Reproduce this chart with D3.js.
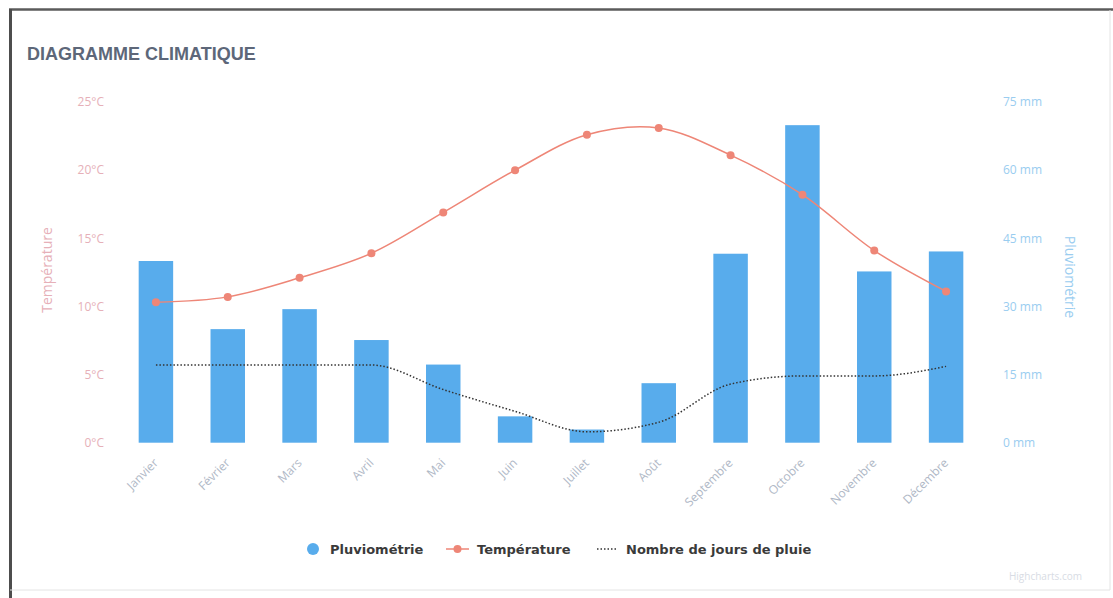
<!DOCTYPE html>
<html>
<head>
<meta charset="utf-8">
<script src="https://cdn.jsdelivr.net/npm/d3@7/dist/d3.min.js"></script>
<style>
  body { margin: 0; background: #fff; }
  svg { display: block; }
</style>
</head>
<body>
<svg class="viz" width="1113" height="598"></svg>
<script>
// data
var months = ["Janvier", "Février", "Mars", "Avril", "Mai", "Juin", "Juillet", "Août",
  "Septembre", "Octobre", "Novembre", "Décembre"];
var pluvio = [40, 25, 29.4, 22.6, 17.2, 5.8, 2.9, 13.1, 41.6, 69.9, 37.7, 42.1];        // mm
var temperature = [10.3, 10.7, 12.1, 13.9, 16.9, 20, 22.6, 23.1, 21.1, 18.2, 14.1, 11.1]; // °C
var joursPluie = [5.7, 5.7, 5.7, 5.7, 3.9, 2.3, 0.8, 1.5, 4.3, 4.9, 4.9, 5.6];
var tempTicks = [0, 5, 10, 15, 20, 25];
var pluvioTicks = [0, 15, 30, 45, 60, 75];

var svg = d3.select(".viz"),
    margin = {top: 102, right: 131, bottom: 155, left: 120},
    width = +svg.attr("width"),
    height = +svg.attr("height");

var blue = "#58acec",
    red = "#ee8677",
    bottom = height - margin.bottom - 0.3;

// frame
svg.append("line").attr("x1", 9).attr("x2", width).attr("y1", 9.5).attr("y2", 9.5)
    .style("stroke", "#5b5b5b").style("stroke-width", 2.5);
svg.append("line").attr("x1", 10.5).attr("x2", 10.5).attr("y1", 9).attr("y2", height)
    .style("stroke", "#4d4d4d").style("stroke-width", 3);
svg.append("line").attr("x1", 1110).attr("x2", 1110).attr("y1", 10).attr("y2", 590)
    .style("stroke", "#e4e4e4").style("stroke-width", 1);
svg.append("line").attr("x1", 10).attr("x2", 1110).attr("y1", 590).attr("y2", 590)
    .style("stroke", "#e4e4e4").style("stroke-width", 1);

svg.append("text")
    .text("DIAGRAMME CLIMATIQUE")
    .attr("x", 27).attr("y", 60)
    .attr("font-family", "Liberation Sans, Arial, sans-serif")
    .attr("font-size", "18px")
    .attr("font-weight", "bold")
    .attr("fill", "#5d6779");

var x = d3.scaleBand()
    .domain(months)
    .range([margin.left, width - margin.right])
    .paddingInner(0.52)
    .paddingOuter(0.26);

var yTemp = d3.scaleLinear().domain([0, 25]).range([bottom, margin.top]);
var yRain = d3.scaleLinear().domain([0, 75]).range([bottom, margin.top]);

function cx(d, i) { return x(months[i]) + x.bandwidth() / 2; }

// left axis
var leftAxis = svg.append("g")
    .attr("transform", "translate(104,0)")
    .call(d3.axisLeft(yTemp).tickValues(tempTicks).tickSize(0).tickPadding(0)
      .tickFormat(function(d) { return d + "°C"; }));
leftAxis.select(".domain").remove();
leftAxis.selectAll("text")
    .attr("font-family", "Open Sans, sans-serif").attr("font-size", "12px")
    .attr("fill", "#e6b0b8");

svg.append("text")
    .text("Température")
    .attr("transform", "translate(52,270) rotate(-90)")
    .attr("text-anchor", "middle")
    .attr("font-family", "Open Sans, sans-serif").attr("font-size", "14px")
    .attr("fill", "#e6b0b8");

// right axis
var rightAxis = svg.append("g")
    .attr("transform", "translate(1003,0)")
    .call(d3.axisRight(yRain).tickValues(pluvioTicks).tickSize(0).tickPadding(0)
      .tickFormat(function(d) { return d + " mm"; }));
rightAxis.select(".domain").remove();
rightAxis.selectAll("text")
    .attr("font-family", "Open Sans, sans-serif").attr("font-size", "12px")
    .attr("fill", "#9acdf0");

svg.append("text")
    .text("Pluviométrie")
    .attr("transform", "translate(1065,277) rotate(90)")
    .attr("text-anchor", "middle")
    .attr("font-family", "Open Sans, sans-serif").attr("font-size", "14px")
    .attr("fill", "#9acdf0");

// bars
svg.append("g").selectAll("rect")
    .data(pluvio)
    .enter().append("rect")
    .attr("x", function(d, i) { return x(months[i]); })
    .attr("width", x.bandwidth())
    .attr("y", function(d) { return yRain(d); })
    .attr("height", function(d) { return bottom - yRain(d); })
    .attr("fill", blue);

// x axis labels
var xAxis = svg.append("g")
    .attr("transform", "translate(-3," + (bottom + 15) + ")")
    .call(d3.axisBottom(x).tickSize(0).tickPadding(0));
xAxis.select(".domain").remove();
xAxis.selectAll("text")
    .attr("text-anchor", "end")
    .attr("dy", "0.7em")
    .attr("transform", "rotate(-45)")
    .attr("font-family", "Open Sans, sans-serif").attr("font-size", "12px")
    .attr("fill", "#afb8c6");

// rain days (dotted)
var daysLine = d3.line()
    .x(cx)
    .y(function(d) { return yTemp(d); })
    .curve(d3.curveMonotoneX);

svg.append("path")
    .datum(joursPluie)
    .attr("d", daysLine)
    .attr("fill", "none")
    .style("stroke", "#333")
    .style("stroke-width", 1.5)
    .style("stroke-dasharray", "1.5,2");

// temperature
var tempLine = d3.line()
    .x(cx)
    .y(function(d) { return yTemp(d); })
    .curve(d3.curveCatmullRom.alpha(0.5));

svg.append("path")
    .datum(temperature)
    .attr("d", tempLine)
    .attr("fill", "none")
    .style("stroke", red)
    .style("stroke-width", 1.5);

svg.append("g").selectAll("circle")
    .data(temperature)
    .enter().append("circle")
    .attr("cx", cx)
    .attr("cy", function(d) { return yTemp(d); })
    .attr("r", 4)
    .attr("fill", red);

// legend
var legend = svg.append("g")
    .attr("font-family", "DejaVu Sans, sans-serif")
    .attr("font-size", "13px")
    .attr("font-weight", "bold")
    .attr("fill", "#3a3a3a");

legend.append("circle").attr("cx", 313).attr("cy", 549).attr("r", 6).attr("fill", blue);
legend.append("text").text("Pluviométrie").attr("x", 330).attr("y", 554);

legend.append("line").attr("x1", 446).attr("x2", 469).attr("y1", 549).attr("y2", 549)
    .style("stroke", red).style("stroke-width", 1.5);
legend.append("circle").attr("cx", 457.5).attr("cy", 549).attr("r", 4).attr("fill", red);
legend.append("text").text("Température").attr("x", 477).attr("y", 554);

legend.append("line").attr("x1", 597).attr("x2", 617).attr("y1", 549).attr("y2", 549)
    .style("stroke", "#333").style("stroke-width", 1.5).style("stroke-dasharray", "1.5,2");
legend.append("text").text("Nombre de jours de pluie").attr("x", 626).attr("y", 554);

// credits
svg.append("text")
    .text("Highcharts.com")
    .attr("x", 1082).attr("y", 580)
    .attr("text-anchor", "end")
    .attr("font-family", "Open Sans, sans-serif").attr("font-size", "10px")
    .attr("fill", "#d8dce4");
</script>
</body>
</html>
